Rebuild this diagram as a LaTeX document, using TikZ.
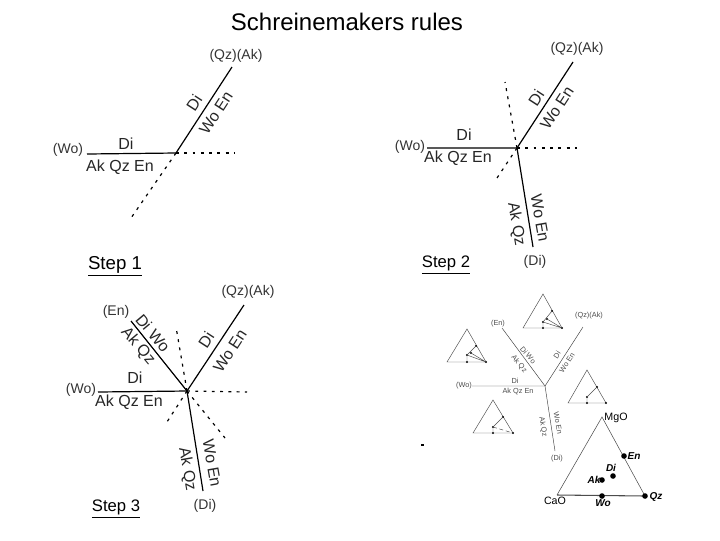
\documentclass[tikz,border=0pt]{standalone}
\usepackage{fontspec}
\setmainfont{Liberation Sans}
\usepackage{tikz}
\usetikzlibrary{calc,positioning}
\tikzset{
  phase/.style={line width=0.9pt},
  meta/.style={line width=0.9pt,dash pattern=on 2.2pt off 4pt},
  lbl/.style={font=\fontsize{12}{13}\selectfont,inner sep=0pt,text=black!85},
  plbl/.style={font=\fontsize{10.5}{12}\selectfont,inner sep=0pt,text=black!80},
  steplbl/.style={font=\fontsize{12.5}{13}\selectfont,inner sep=0pt},
  small/.style={font=\fontsize{5.5}{6}\selectfont,inner sep=0pt,text=black!70},
  thinline/.style={line width=0.35pt,black!75},
  tri/.style={line width=0.35pt,black!70},
  pt/.style={circle,fill=black,inner sep=0pt,minimum size=1.7pt},
  bigpt/.style={circle,fill=black,inner sep=0pt,minimum size=4.2pt},
  comp/.style={font=\fontsize{7.5}{8}\selectfont\bfseries\itshape,inner sep=0pt}
}
\begin{document}
\begin{tikzpicture}[x=0.75pt,y=-0.75pt]
\useasboundingbox (0,0) rectangle (720,540);
\node[font=\fontsize{18}{20}\selectfont,inner sep=0pt] (title) at (347,22) {Schreinemakers rules};
% step 1
\coordinate (c1) at (176,153);
\coordinate (w1) at (87,154);
\coordinate (q1) at (232,67);
\coordinate (d1) at (235,153);
\coordinate (s1) at (131,218);
\draw[phase] (w1)--(c1)--(q1);
\draw[meta] (c1)--(d1);
\draw[meta] (c1)--(s1);
\node[plbl] (wo1) at (68,150) {(Wo)};
\node[lbl] (di1) at (126,144) {Di};
\node[lbl] (ak1) at (120,167) {Ak Qz En};
\node[plbl] (qa1) at (236,56) {(Qz)(Ak)};
\node[lbl,rotate=57] (dr1) at (194,103) {Di};
\node[lbl,rotate=57] (we1) at (216,113) {Wo En};
\node[steplbl,font=\fontsize{14}{15}\selectfont] (st1) at (115,266) {\underline{Step 1}};
% step 2
\coordinate (c2) at (517,148);
\coordinate (w2) at (427,148);
\coordinate (q2) at (573,62);
\coordinate (d2) at (577,148);
\coordinate (s2) at (495,181);
\coordinate (e2) at (505,82);
\coordinate (b2) at (533,247);
\draw[phase] (w2)--(c2)--(q2);
\draw[phase] (c2)--(b2);
\draw[meta] (c2)--(d2);
\draw[meta] (c2)--(s2);
\draw[meta] (c2)--(e2);
\node[plbl] (wo2) at (410,147) {(Wo)};
\node[lbl] (di2) at (464,135) {Di};
\node[lbl] (ak2) at (458,158) {Ak Qz En};
\node[plbl] (qa2) at (577,49) {(Qz)(Ak)};
\node[lbl,rotate=57] (dr2) at (536,98) {Di};
\node[lbl,rotate=57] (we2) at (557,108) {Wo En};
\node[lbl,rotate=-80] (we2b) at (540,218) {Wo En};
\node[lbl,rotate=-80] (aq2) at (516,224) {Ak Qz};
\node[plbl] (di2b) at (535,262) {(Di)};
\node[steplbl] (st2) at (446,265) {\underline{Step 2}};
% step 3
\coordinate (c3) at (187,391);
\coordinate (w3) at (98,392);
\coordinate (q3) at (244,305);
\coordinate (d3) at (247,392);
\coordinate (s3) at (165,425);
\coordinate (e3) at (176,327);
\coordinate (b3) at (203,491);
\coordinate (n3) at (131,321);
\coordinate (f3) at (225,438);
\draw[phase] (w3)--(c3)--(q3);
\draw[phase] (c3)--(b3);
\draw[phase] (c3)--(n3);
\draw[meta] (c3)--(d3);
\draw[meta] (c3)--(s3);
\draw[meta] (c3)--(e3);
\draw[meta] (c3)--(f3);
\node[plbl] (wo3) at (81,390) {(Wo)};
\node[lbl] (di3) at (135,378) {Di};
\node[lbl] (ak3) at (129,402) {Ak Qz En};
\node[plbl] (qa3) at (248,292) {(Qz)(Ak)};
\node[lbl,rotate=57] (dr3) at (206,340) {Di};
\node[lbl,rotate=57] (we3) at (230,351) {Wo En};
\node[lbl,rotate=-80] (we3b) at (212,463) {Wo En};
\node[lbl,rotate=-80] (aq3) at (187,469) {Ak Qz};
\node[lbl,rotate=-50] (dw3) at (153,333) {Di Wo};
\node[lbl,rotate=-50] (aq3b) at (138,346) {Ak Qz};
\node[plbl] (en3) at (116,312) {(En)};
\node[plbl] (di3b) at (205,506) {(Di)};
\node[steplbl] (st3) at (116,509) {\underline{Step 3}};
% small summary diagram
\coordinate (c4) at (545,386);
\coordinate (w4) at (472,386);
\coordinate (q4) at (583,327);
\coordinate (n4) at (502,328);
\coordinate (b4) at (555,451);
\draw[thinline] (w4)--(c4)--(q4);
\draw[thinline] (c4)--(b4);
\draw[thinline] (c4)--(n4);
\node[small] (wo4) at (464,386) {(Wo)};
\node[small] (di4) at (515,381) {Di};
\node[small] (ak4) at (518,392) {Ak Qz En};
\node[small] (qa4) at (589,316) {(Qz)(Ak)};
\node[small] (en4) at (498,324) {(En)};
\node[small,rotate=-50] (dw4) at (528,355) {Di Wo};
\node[small,rotate=-50] (aq4) at (519,364) {Ak Qz};
\node[small,rotate=57] (dr4) at (557,355) {Di};
\node[small,rotate=57] (we4) at (567,363) {Wo En};
\node[small,rotate=-80] (we4b) at (558,423) {Wo En};
\node[small,rotate=-80] (aq4b) at (543,427) {Ak Qz};
\node[small] (di4b) at (557,459) {(Di)};
% mini triangles
\coordinate (t1a) at (523,328); \coordinate (t1b) at (562,328); \coordinate (t1c) at (543,294);
\draw[tri] (t1a)--(t1b)--(t1c)--cycle;
\coordinate (t1e) at (552,311); \coordinate (t1d) at (543,322); \coordinate (t1w) at (543,328); \coordinate (t1k) at (547,319);
\foreach \n in {t1e,t1d,t1w,t1k,t1b} \node[pt] at (\n) {};
\draw[tri] (t1w)--(t1d)--(t1e) (t1d)--(t1b) (t1k)--(t1b);
\coordinate (t2a) at (447,362); \coordinate (t2b) at (486,362); \coordinate (t2c) at (467,329);
\draw[tri] (t2a)--(t2b)--(t2c)--cycle;
\coordinate (t2e) at (476,346); \coordinate (t2d) at (467,355); \coordinate (t2w) at (467,362); \coordinate (t2k) at (471,353);
\foreach \n in {t2e,t2d,t2w,t2k,t2b} \node[pt] at (\n) {};
\draw[tri] (t2w)--(t2d)--(t2e) (t2d)--(t2b) (t2k)--(t2b);
\coordinate (t3a) at (473,433); \coordinate (t3b) at (513,433); \coordinate (t3c) at (493,400);
\draw[tri] (t3a)--(t3b)--(t3c)--cycle;
\coordinate (t3e) at (503,417); \coordinate (t3d) at (493,427); \coordinate (t3w) at (493,433);
\foreach \n in {t3e,t3d,t3w,t3b} \node[pt] at (\n) {};
\draw[tri] (t3w)--(t3d)--(t3e);
\draw[tri,densely dashed] (t3d)--(t3b);
\coordinate (t4a) at (568,403); \coordinate (t4b) at (606,403); \coordinate (t4c) at (587,370);
\draw[tri] (t4a)--(t4b)--(t4c)--cycle;
\coordinate (t4e) at (597,387); \coordinate (t4d) at (587,397); \coordinate (t4w) at (587,403);
\foreach \n in {t4e,t4d,t4w,t4b} \node[pt] at (\n) {};
\draw[tri] (t4w)--(t4d)--(t4e);
% main triangle
\coordinate (cao) at (557,495);
\coordinate (qz) at (645,496);
\coordinate (mgo) at (602,417);
\draw[tri,line width=0.4pt] (cao)--(mgo)--(qz);
\draw[line width=0.8pt,black!70] (cao)--(qz);
\node[bigpt] (pen) at (624,456) {};
\node[bigpt] (pdi) at (613,476) {};
\node[bigpt] (pak) at (602,480) {};
\node[bigpt] (pwo) at (602,496) {};
\node[bigpt] (pqz) at (645,496) {};
\node[font=\fontsize{8}{9}\selectfont,inner sep=0pt] (lmg) at (616,418) {MgO};
\node[font=\fontsize{8}{9}\selectfont,inner sep=0pt] (lca) at (555,501) {CaO};
\node[comp] (len) at (634,456) {En};
\node[comp] (ldi) at (611,468) {Di};
\node[comp] (lak) at (594,480) {Ak};
\node[comp] (lwo) at (603,503) {Wo};
\node[comp] (lqz) at (656,497) {Qz};
% speck left of the summary
\fill (421,444) rectangle (424,446);
\end{tikzpicture}
\end{document}
